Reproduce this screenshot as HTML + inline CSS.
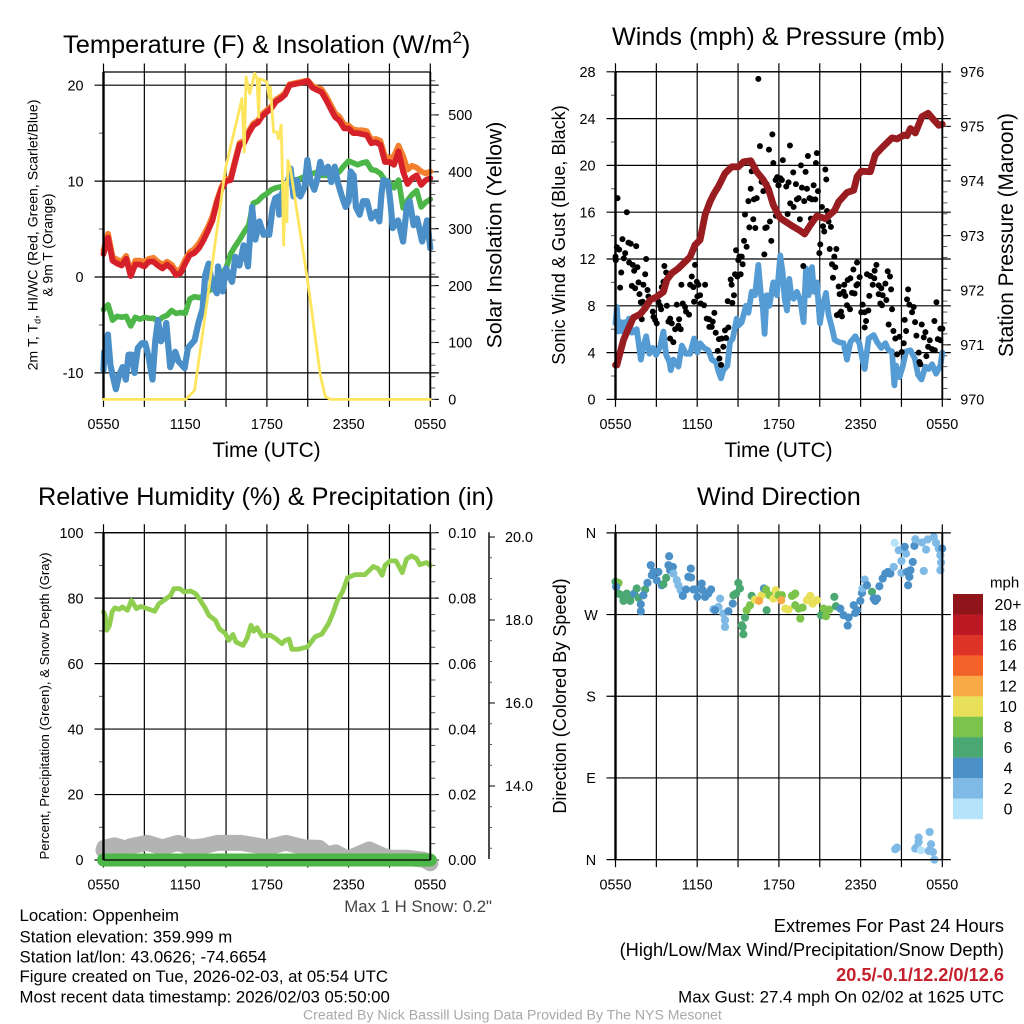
<!DOCTYPE html>
<html>
<head>
<meta charset="utf-8">
<title>Oppenheim station meteogram</title>
<style>
html,body{margin:0;padding:0;background:#fff;}
svg{display:block;}
text{font-family:"Liberation Sans",sans-serif;fill:#000;}
</style>
</head>
<body>
<svg id="chart" xmlns="http://www.w3.org/2000/svg" width="1024" height="1024" viewBox="0 0 1024 1024">
<rect x="0" y="0" width="1024" height="1024" fill="#fff"/>
<g id="marks"></g>
<g>
<text x="63" y="53" font-size="25.4">Temperature (F) &amp; Insolation (W/m<tspan font-size="17" dy="-10">2</tspan><tspan dy="10">)</tspan></text>
<text x="612" y="45" font-size="25.2">Winds (mph) &amp; Pressure (mb)</text>
<text x="38" y="505" font-size="25.25">Relative Humidity (%) &amp; Precipitation (in)</text>
<text x="697" y="505" font-size="25.2">Wind Direction</text>
</g>
<g>
<text x="266.5" y="457" font-size="20.9" text-anchor="middle">Time (UTC)</text>
<text x="778.5" y="457" font-size="20.9" text-anchor="middle">Time (UTC)</text>
<text transform="translate(37.5,235) rotate(-90)" font-size="14.1" text-anchor="middle">2m T, T<tspan font-size="9" dy="3">d</tspan><tspan dy="-3">, HI/WC (Red, Green, Scarlet/Blue)</tspan></text>
<text transform="translate(52.5,245) rotate(-90)" font-size="13.8" text-anchor="middle">&amp; 9m T (Orange)</text>
<text transform="translate(501.5,235) rotate(-90)" font-size="21.2" text-anchor="middle">Solar Insolation (Yellow)</text>
<text transform="translate(565,235) rotate(-90)" font-size="18.1" text-anchor="middle">Sonic Wind &amp; Gust (Blue, Black)</text>
<text transform="translate(1013,235) rotate(-90)" font-size="20.8" text-anchor="middle">Station Pressure (Maroon)</text>
<text transform="translate(49,706) rotate(-90)" font-size="13.2" text-anchor="middle">Percent, Precipitation (Green), &amp; Snow Depth (Gray)</text>
<text transform="translate(566,696) rotate(-90)" font-size="18.1" text-anchor="middle">Direction (Colored By Speed)</text>
</g>
<g font-size="16.8">
<text x="19.5" y="921">Location: Oppenheim</text>
<text x="19.5" y="942.5">Station elevation: 359.999 m</text>
<text x="19.5" y="962.5">Station lat/lon: 43.0626; -74.6654</text>
<text x="19.5" y="982">Figure created on Tue, 2026-02-03, at 05:54 UTC</text>
<text x="19.5" y="1002.5">Most recent data timestamp: 2026/02/03 05:50:00</text>
</g>
<text x="492" y="912" font-size="16.8" text-anchor="end" style="fill:#444">Max 1 H Snow: 0.2"</text>
<g text-anchor="end">
<text x="1004" y="932" font-size="18.25">Extremes For Past 24 Hours</text>
<text x="1004" y="956" font-size="18.25">(High/Low/Max Wind/Precipitation/Snow Depth)</text>
<text x="1004" y="981" font-size="18.2" font-weight="bold" style="fill:#c5202c">20.5/-0.1/12.2/0/12.6</text>
<text x="1004" y="1002.5" font-size="16.85">Max Gust: 27.4 mph On 02/02 at 1625 UTC</text>
</g>
<text x="303" y="1019.5" font-size="14.1" style="fill:#a8a8a8">Created By Nick Bassill Using Data Provided By The NYS Mesonet</text>
</svg>
<script>
/* ---------- data: temperature panel ---------- */
const timeLabels = ['0550','1150','1750','2350','0550'];
const tempTicks = [20,10,0,-10];
const tempMinorTicks = [15,5,-5];
const insolTicks = [0,100,200,300,400,500];
const redT = [2.4,4.1,1.7,1.4,1.2,1.9,0.1,1.3,1.3,1.1,1.6,1.6,1.2,0.9,1.3,0.9,0.2,0.4,1.4,2.3,2.5,3,3.8,4.8,5.9,7.8,9.2,10,10.1,12,13.8,14,15,15.8,16.1,16.8,17.2,
  17.6,18.3,18.6,19,20,20.1,20.2,20.3,20.45,19.75,19.5,19.3,18.5,17.6,16.7,16.3,15.5,15.5,15,15,14.9,14.8,13.95,14.05,13.8,12,12,11.7,13.1,11,9.7,10.3,10.6,9.6,10.1,10.3];
const orangeT = [2.8,4.5,2.1,1.8,1.6,2.2,0.5,1.7,1.7,1.6,1.9,2,1.6,1.3,1.6,1.3,0.6,0.8,1.8,2.6,2.9,3.5,4.3,5.2,6.3,8,9.4,10.2,10.3,12.2,14,14.2,15.2,16,16.3,17,17.4,
  17.8,18.5,18.8,19.2,20.1,20.2,20.3,20.4,20.5,19.95,19.7,19.6,18.9,18,17.1,16.7,15.9,15.8,15.4,15.3,15.3,15.2,14.3,14.4,14.2,12.6,12.4,12.6,13.7,12.6,11.2,11.6,11.4,11,10.8,11];
const greenHI = [-3.4,-2.9,-4.5,-4.1,-4.2,-4.1,-5.1,-4.2,-4.4,-4.2,-4.3,-4.3,-4.6,-4.2,-4,-3.5,-3.8,-3.7,-3.8,-2.3,-2.05,-2.15,-2.05,-1.5,-1.2,0,0.4,0.9,2.4,3.2,3.9,4.7,5.4,7.7,7.9,8.4,8.7,
  9.1,9.3,9.4,9.6,10,10.1,10.2,10.4,10.6,10.8,10.9,10.6,10.6,10.6,10.7,11,11.6,12.1,11.9,11.7,11.9,12,11.2,11.1,10.8,10.1,9.9,9.3,10.1,7.2,8,8.6,9,7.3,7.8,8.1];
const dewTimes = [0,0.05,0.12,0.32,0.51,0.66,0.91,1.15,1.4,1.64,1.84,2.08,2.28,2.52,2.82,3.06,3.31,3.6,3.8,4,4.22,4.46,4.61,4.9,5.27,5.51,5.96,6.2,6.69,6.99,7.28,7.47,7.72,7.97,8.33,8.41,8.75,9,9.44,9.68,9.98,10.29,10.61,10.91,11.15,11.45,11.76,
  12,12.17,12.42,12.61,12.86,12.9,13.1,13.35,13.6,13.74,13.96,14.2,14.45,14.77,14.97,15.19,15.48,15.68,15.92,16.17,16.49,16.73,16.98,17.22,17.51,17.78,18,18.15,18.37,18.54,18.81,19.06,19.35,19.67,20.01,20.26,20.41,20.55,20.9,21.09,21.24,21.63,22,22.29,22.49,22.78,23.03,23.4,23.76,24];
const dewValues = [-9.7,-7.8,-8.8,-6,-9.2,-10.2,-11.7,-10.2,-9.4,-10.7,-8.1,-8.1,-10,-7.4,-6.9,-6.9,-8.3,-10.7,-6.7,-4.5,-6.7,-6.2,-4.8,-9.4,-7.8,-8.8,-9.5,-7.4,-6.6,-4.7,-3.3,0.2,1.4,-0.8,-1.7,1.1,-1.5,0.9,-0.5,2.1,1.2,3.3,1.1,7.3,3.9,5.8,4.4,
  4.7,4.4,7.2,8.2,8.4,6.5,8.7,9.4,10.3,11.3,8.4,10.1,8.4,9.4,12.2,10.1,9.1,10.1,12,10.8,11.5,9.9,11.5,9.8,8.4,7.3,7.9,11,10.6,7.3,6.5,7.9,7.9,6.1,6.8,5.8,8.6,10.1,9.9,7.5,5.1,5.9,3.7,7.5,7.9,5.4,6.1,3.7,5.9,3];
const solarTimes = [0,6.05,6.69,7.84,8.95,10.17,10.34,10.47,10.74,11.1,11.27,11.4,11.47,12,12.17,12.25,12.37,12.49,12.73,12.85,13.05,13.1,13.23,13.35,13.47,13.54,13.72,15,15.92,16.29,16.66,24];
const solarValues = [0,0,16,212,405,529,435,567,537,573,564,496,564,558,529,549,511,470,470,458,482,432,271,382,312,420,406,207,43,5,0,0];

/* ---------- data: winds panel ---------- */
const windTicks = [0,4,8,12,16,20,24,28];
const windMinorTicks = [2,6,10,14,18,22,26];
const pressureTicks = [970,971,972,973,974,975,976];
const windTimes = [0,0.1,0.22,0.39,0.54,0.68,0.83,0.98,1.2,1.37,1.56,1.86,2.05,2.25,2.49,2.74,2.98,3.28,3.52,3.72,3.96,4.06,4.25,4.45,4.62,4.87,5.18,5.48,5.77,6.01,6.21,6.5,6.82,7.07,7.38,7.56,7.75,7.92,8.22,8.41,8.61,8.9,9.02,9.27,9.58,9.76,10,10.24,10.49,10.66,10.81,10.95,11.1,11.3,11.59,11.85,
  12.1,12.27,12.42,12.59,12.76,12.91,13.08,13.32,13.57,13.81,13.99,14.18,14.43,14.57,14.79,15.01,15.21,15.46,15.65,15.9,16.09,16.39,16.75,17,17.25,17.61,17.91,18.1,18.3,18.59,18.96,19.21,19.52,19.82,20.06,20.31,20.48,20.6,20.85,21.09,21.34,21.66,21.98,22.22,22.47,22.76,23,23.25,23.54,23.86,24];
const windValues = [6.5,7.9,5.8,6.6,5.8,6.6,5.7,6.9,5.7,5.8,6,3.4,4.5,5.4,3.9,4.4,3.8,4.5,5.8,3.8,3.2,2.5,3.4,3.1,2.8,4.6,3.9,3.9,5.2,4,4.8,4.4,4.2,3.4,3.2,2.4,1.8,2.5,2.9,4.9,5.2,6.9,6.3,6.6,8,7.4,9.2,8.9,11.5,9.2,8,5.6,8.9,8,10,8.9,
  12.3,10.9,8.6,7.6,10.3,8.9,8.6,9.2,8.5,6.6,11.2,8.9,11.3,9.2,10,6.5,8,9.1,7.2,6.1,5.1,4.9,4.8,3.4,4.9,5.4,4.8,3.6,2.6,5.2,5.5,4.9,4.4,4.8,4.2,4.1,1.2,2.9,1.9,2.8,4.1,4.2,3.5,2.1,1.7,2.8,2.6,3,2.2,2.9,4];
const pressureTimes = [0,0.1,0.29,0.59,0.95,1.32,1.81,2.18,2.54,3.03,3.52,3.77,4.13,4.62,5.11,5.48,5.84,6.21,6.58,6.94,7.24,7.56,8.04,8.53,9.02,9.39,9.93,10.37,10.86,11.22,11.59,11.96,
  12.1,12.59,13.08,13.5,13.89,14.3,14.79,15.41,16.09,16.39,17,17.49,17.74,18.05,18.72,19.08,19.57,20.31,20.68,21.17,21.41,21.66,22.02,22.51,22.96,23.37,23.74,24];
const pressureValues = [970.63,970.63,970.81,971.09,971.3,971.5,971.56,971.67,971.82,971.88,971.97,972.19,972.31,972.4,972.52,972.61,972.83,972.92,973.38,973.62,973.77,973.9,974.14,974.26,974.26,974.35,974.37,974.17,974.02,973.86,973.56,973.38,
  973.32,973.24,973.16,973.1,973.03,973.19,973.36,973.31,973.46,973.62,973.79,973.83,974.08,974.18,974.17,974.48,974.61,974.79,974.77,974.84,974.83,974.96,974.88,975.18,975.24,975.12,975.02,975.04];
const gustTimes = [0.15,0.83,0.51,0.95,1.12,1.52,0.1,0.27,0,0.02,0.71,0.61,1,1.27,1.61,2.25,1.37,0.42,2.18,0.34,1.2,1.44,1.69,2.05,2.35,1.76,2.42,2,1.86,2.74,2.79,2.91,3.03,1.93,3.59,3.72,3.52,3.4,3.77,3.15,3.28,3.35,4.5,4.94,5.11,5.18,5.4,4.01,3.89,4.13,4.67,4.38,4.62,4.79,4.01,4.25,5.84,5.6,5.97,6.09,5.48,5.72,6.58,4.84,6.21,6.01,5.77,6.26,6.5,6.7,6.87,7.26,7.14,6.89,7.07,7.36,8.04,8.29,7.6,7.8,8.12,7.51,7.92,7.63,7.75,8.24,8.58,8.7,8.53,8.46,8.85,9.27,9.1,9.02,9.34,8.78,8.95,9.19,9.44,9.63,9.51,9.76,9.93,10.37,10.17,10,10.61,10.49,11.27,11.52,11.59,9.83,10.27,10.12,11,11.1,10.86,10.93,11.44,11.34,11.78,11.96,11.76,11.88,11.1,10.73,
  12.81,12.29,14.13,14.79,14.72,13.62,13.96,13.05,15.41,15.48,11.85,12.1,12.22,11.98,12.54,12.71,13.25,13.69,14.06,14.55,14.87,15.16,15.53,13.32,13.45,12.83,13.08,12.64,13.54,14.25,14.43,14.67,13.86,14.35,15.65,15.24,15.82,15.33,15.04,14.97,15.73,16.22,16.07,15.9,16.14,13.79,15.97,17.74,17.47,19.16,19.03,18.47,18.72,19.99,20.16,17.25,17.05,17.93,19.01,19.82,18.89,16.8,16.39,16.75,16.46,16.88,17.78,17.69,17.37,17.56,19.33,19.52,20.24,19.33,19.62,18.64,19.89,19.45,19.57,20.31,17,17.22,18.15,16.46,16.26,16.56,16.63,18.05,18.3,18.57,18.4,18.3,21.49,21.41,21.58,21.9,21.78,23.57,20.06,20.41,21.24,22,22.49,23.42,21.34,20.85,20.55,22.1,22.76,22.64,23.08,23.67,23.86,24,23.86,21.17,22.96,23.25,23.45,21.02,20.68,22.27,22.32,22.39,22.83];
const gustValues = [17.2,16,13.7,13.4,13.3,13.1,13,12.8,12.2,11.9,12.5,12.05,11.7,11.5,11.3,12,11,10.85,10.7,9.55,9.7,9.5,10,9.8,9.35,9,8.8,8.35,8.3,7.5,7.05,6.8,6.5,6.85,11.4,10.85,10.05,9.6,8,8.35,8,7.7,8.1,8.2,7.9,7.5,7.25,6.9,6.65,6.5,6.85,6,6.3,6,5.2,4.9,11.5,10.5,10.05,9.8,9.8,9.6,9.8,9.8,8.9,8.8,8.35,8.2,8.05,6.9,6.85,7.4,6.65,6.2,6.2,5.7,5.9,6.15,5.15,5.2,5.25,4.15,4.5,3.5,2.95,8.4,8.25,8.9,9.8,10.25,12.75,12.2,12.2,11.9,11.55,10.7,10.5,10.7,13.55,13.05,15.8,16.95,18,17.2,17.1,19.5,21.65,27.4,21.35,22.65,20.2,14.7,14.65,15.4,14.65,14.7,17.8,12.4,13.55,15.2,15.7,18.3,18.75,19,18.4,18.6,
  21.7,20.45,20.8,21.05,20.2,20,19.45,19.4,19.65,18.8,18.9,18.9,18.75,18.3,18.2,18.55,18.4,18.1,18,18.3,17.8,16.45,16.1,17.1,17.2,16.75,16.45,15.85,15.4,17.2,17.1,17.1,16.95,15.45,15.2,14.8,14.75,14.35,13.25,12.5,12.85,12.85,12.2,11.55,11.3,11.4,10.4,11.7,11.1,11.5,11,10.7,10.55,10.95,10.5,10.35,10.2,10.45,10.35,9.9,9.8,9.8,9.65,9.2,9,8.85,9.85,9.75,9.1,9.05,9.75,9.5,9.4,9,8.9,8.85,8.5,8.2,8.05,7.7,8.05,7.7,8.1,7.35,7.2,7.5,7.1,7.45,7.45,7.6,6.7,6.15,9.4,8.55,8.1,7.9,7.45,8.3,6.4,5.85,6.8,6.6,6.4,6.7,5.85,5.35,5.2,5.45,5.75,5.3,5.05,5.15,6.05,6.05,5.05,4.8,4.5,4.3,4.2,4.05,3.85,4,3.2,3,3.7];

/* ---------- data: humidity panel ---------- */
const rhTicks = [0,20,40,60,80,100];
const rhMinorTicks = [10,30,50,70,90];
const precipTicks = [0,0.02,0.04,0.06,0.08,0.1];
const snowTicks = [14,16,18,20];
const rhTimes = [0,0.12,0.24,0.44,0.63,0.83,1.15,1.39,1.76,2.05,2.42,2.73,3.22,3.76,4.07,4.56,4.93,5.17,5.61,5.9,6.39,6.76,7.12,7.49,7.73,8.22,8.51,8.95,9.2,9.51,9.73,10.25,10.54,10.83,11.03,11.27,11.64,12.25,12.62,13.1,13.34,13.63,13.83,14.32,14.98,15.54,16.03,16.52,16.84,17.18,17.55,17.92,18.47,19.21,19.82,20.18,20.47,20.67,21.04,21.48,21.94,22.26,22.62,22.99,23.23,23.72,24];
const rhValues = [75.8,74.8,70.2,71.7,75.8,77,76.6,77.3,76.3,79.3,76.8,77.5,76.8,76,78.3,79.7,80.9,82.9,82.9,81.9,82.2,81.4,79.3,76.8,74.8,73.2,70.7,69.2,67.1,68.9,66.6,65.6,67.7,71.7,69.9,71,68.4,68.7,67.7,66.1,67.1,67.5,64.4,64.4,65.1,68.2,69,72.2,75.3,79.3,81.9,86.2,87.2,87.2,89.7,89,87,90,91.4,91.4,87.8,92,92.9,92.1,90.2,90.9,90];
const snowTimes = [0,0.05,0.83,1.64,2,3.23,4.33,5.48,6.41,7.39,8.37,10.09,11.19,12.04,13.39,14.74,15.84,16.45,17.06,17.92,18.65,19.51,20.61,21.1,22.33,23.55,24];
const snowValues = [12.45,12.51,12.57,12.49,12.55,12.63,12.52,12.63,12.52,12.55,12.63,12.63,12.57,12.52,12.63,12.52,12.51,12.35,12.4,12.25,12.35,12.47,12.31,12.27,12.27,12.22,12.14];
const precipTimes = [0,24];
const precipValues = [0,0];

/* ---------- data: wind direction panel ---------- */
const dirTickLabels = ['N','W','S','E','N'];
const dirTicks = [360,270,180,90,0];
const speedLabels = ['20+','18','16','14','12','10','8','6','4','2','0'];
const speedColors = ['#90151a','#bb1a25','#de3427','#f36228','#f9a945','#e8e058','#7bc34b','#4ba873','#4b90c7','#7ebae5','#b5e3fa'];
const dirTimes = [0,0.22,0.05,0.22,0.46,0.59,0.83,1.08,1.08,1.37,1.56,1.69,2.18,2.05,1.86,1.86,2.35,2.67,2.59,2.79,3.15,3.03,3.4,3.52,3.72,3.94,3.89,4.01,4.21,4.25,4.5,4.62,4.79,4.94,5.18,5.35,5.53,5.55,5.72,6.01,5.92,6.33,6.41,6.58,7.02,6.82,7.68,7.19,7.56,7.92,7.31,8.29,8.04,8.04,8.66,9.02,9.14,8.85,8.61,9.51,9.34,9.39,9.27,9.63,9.88,10,10.24,10.73,10.9,11.1,11.05,11.3,11.59,11.76,
  11.98,12.22,12.47,12.71,13.08,12.96,13.2,13.45,13.74,13.57,14.06,14.3,14.48,14.79,13.2,15.09,15.28,15.46,15.7,16.07,16.19,16.51,16.75,17.12,17.05,17.49,17.74,17.61,17.98,18.1,18.3,18.15,18.47,18.84,18.96,19.21,19.08,19.38,19.62,19.82,20.19,20.01,20.43,21,20.8,20.5,21,21.34,21.24,21.83,21.66,21.41,21.58,21.49,21.95,22.02,22.51,22.81,22.93,23.37,23.54,23.74,23.99,23.86,23.91,23.86,22.64,
  10.54,12.17,
  20.54,20.67,22.26,22.26,22.14,22.01,23.07,23.17,22.43,23,23.31,23.41];
const dirValues = [306,304.9,300.5,293.1,291.3,285.1,293.1,289.5,285.1,293.1,298.7,288.4,297.6,291.3,281.4,273.7,304.9,313.4,324.4,317,317,307.8,302.3,303.4,310.4,334.3,324.4,318.9,322.5,315.2,307.8,302.3,296.8,290.6,297.6,311.5,320.7,310.8,297.6,289.5,297.6,304.2,296.8,289.5,297.6,293.1,287.6,275.9,278.4,271.1,274.8,273.7,263.8,256.4,291.3,304.9,298.7,293.1,282.1,266.7,256.4,248.3,258.2,274.8,280.3,290.6,286.5,291.3,298.7,274.8,297.6,291.3,287.6,296.8,
  291.3,291.3,276.6,275.5,291.3,290.6,293.1,276.6,277.7,265.6,285.8,290.6,282.1,285.8,280.3,269.3,276.6,268.2,275.5,289.5,279.2,276.6,269.3,266.7,257.9,280.3,274.8,271.8,285.1,293.9,308.6,298.7,302.3,295,287.6,287.6,285.1,301.2,309.7,315.2,315.2,317,322.5,315.9,340.9,349,329.1,337.2,344.6,328,318.9,317,311.5,302.3,345.7,353,349.4,341.6,352.7,355.6,349,342.7,342.7,335.4,327.3,318.9,318.1,
  285.1,285.8,
  11.4,13.2,24.2,19.5,14,12.1,30.5,16.9,10.3,9.6,8.4,0];
const dirSpeeds = [6,8,4,6,6,6,6,6,6,4,6,6,6,4,4,4,4,4,4,4,4,4,4,6,6,4,4,4,4,2,2,2,2,4,4,4,4,4,4,4,4,4,4,4,4,4,2,2,2,2,4,4,2,2,6,6,6,6,4,6,6,6,6,8,8,6,10,10,4,6,8,8,10,10,
  8,8,10,10,10,8,8,8,8,8,10,10,10,10,8,6,8,8,8,6,6,4,4,4,4,4,4,4,4,4,2,2,4,6,4,4,4,4,4,4,4,4,2,2,2,0,2,2,4,4,4,4,4,4,4,2,2,2,2,2,2,2,4,2,2,2,2,
  12,12,
  2,2,2,2,2,2,2,2,0,2,2,2];

/* ---------- helpers ---------- */
const NS = 'http://www.w3.org/2000/svg';
const root = document.getElementById('marks');
function make(tag, attrs, parent) {
  const el = document.createElementNS(NS, tag);
  for (const k in attrs) el.setAttribute(k, attrs[k]);
  (parent || root).appendChild(el);
  return el;
}
function seg(parent, x1, y1, x2, y2, w, color) {
  return make('line', {x1: x1, y1: y1, x2: x2, y2: y2, stroke: color || '#000', 'stroke-width': w}, parent);
}
function linear(d0, d1, r0, r1) {
  return function (v) { return r0 + (v - d0) * (r1 - r0) / (d1 - d0); };
}
function pathFor(times, values, xs, ys) {
  return times.map(function (t, i) { return (i ? 'L' : 'M') + xs(t).toFixed(2) + ' ' + ys(values[i]).toFixed(2); }).join('');
}
function series(parent, times, values, xs, ys, color, width) {
  return make('path', {d: pathFor(times, values, xs, ys), fill: 'none', stroke: color, 'stroke-width': width, 'stroke-linejoin': 'round', 'stroke-linecap': 'round'}, parent);
}
function uniformTimes(values) {
  return values.map(function (_, i) { return i * 24 / (values.length - 1); });
}
function tickText(parent, x, y, str, anchor) {
  const t = make('text', {x: x, y: y, 'font-size': 14.4, 'text-anchor': anchor}, parent);
  t.textContent = str;
  return t;
}

/* scales */
const xA = linear(0, 24, 103.5, 430.3);
const xB = linear(0, 24, 615.5, 942.3);
const yTemp = linear(0, 10, 277, 181.1);
const ySolar = linear(0, 500, 399.4, 114.9);
const yWind = linear(0, 28, 399.4, 71.8);
const yPres = linear(970, 976, 399.4, 71.8);
const yRH = linear(0, 100, 860, 532.7);
const yPrecip = linear(0, 0.1, 860, 532.7);
const ySnow = linear(14, 20, 786, 537);
const yDir = linear(0, 360, 859.6, 532.9);

/* draws grid + ticks + x labels beneath a panel's data */
function drawGrid(g, xs, yTop, yBottom, hTicks, hScale, showLabels) {
  for (let h = 0; h <= 24; h += 3) {
    const v = seg(g, xs(h), yTop - 8.5, xs(h), yBottom + 7.5, 1.2);
    
    
  }
  hTicks.forEach(function (tick) {
    const l = seg(g, xs(0) - 9, hScale(tick), xs(24) + 8.5, hScale(tick), 1.2);
    
    
  });
  timeLabels.forEach(function (lab, i) {
    const t = tickText(g, xs(i * 6), yBottom + (showLabels || 29.7), lab, 'middle');
    
    
  });
}
function drawFrame(g, xs, yTop, yBottom) {
  const left = seg(g, xs(0), yTop, xs(0), yBottom, 2.4);
  
  
  const right = seg(g, xs(24), yTop, xs(24), yBottom, 1.9);
  
  
  const top = seg(g, xs(0), yTop, xs(24), yTop, 1.3);
  
  
  const bottom = seg(g, xs(0), yBottom, xs(24), yBottom, 1.3);
  
  
}
function minorLeft(g, xs, ticks, scale) {
  ticks.forEach(function (v) {
    const m = seg(g, xs(0) - 4.5, scale(v), xs(0), scale(v), 1, '#555');
    
    
  });
}
function minorRight(g, xs, from, to, step, scale) {
  const count = Math.round((to - from) / step);
  for (let i = 0; i <= count; i++) {
    const v = from + i * step;
    const m = seg(g, xs(24), scale(v), xs(24) + 5, scale(v), 1, '#555');
    
    
  }
}
function leftLabels(g, xs, ticks, scale, fmt) {
  ticks.forEach(function (v, i) {
    const t = tickText(g, xs(0) - 20, scale(v) + 5.2, fmt ? fmt(v, i) : String(v), 'end');
    
    
  });
}
function rightLabels(g, xs, ticks, scale, fmt) {
  ticks.forEach(function (v) {
    const t = tickText(g, xs(24) + 18, scale(v) + 5.2, fmt ? fmt(v) : String(v), 'start');
    
    
  });
}

/* ---------- panel 1: temperature ---------- */
const p1 = make('g', {});


drawGrid(p1, xA, 72, 399.4, tempTicks, yTemp);
insolTicks.forEach(function (v) {
  const tk = seg(p1, xA(24), ySolar(v), xA(24) + 8.5, ySolar(v), 1.1);
  
  
});
minorLeft(p1, xA, tempMinorTicks, yTemp);
minorRight(p1, xA, 0, 560, 20, ySolar);
leftLabels(p1, xA, tempTicks, yTemp);
rightLabels(p1, xA, insolTicks, ySolar);
const lineOrange = series(p1, uniformTimes(orangeT), orangeT, xA, yTemp, '#f47f2e', 5.8);


const lineGreen = series(p1, uniformTimes(greenHI), greenHI, xA, yTemp, '#4cb648', 5.6);


const lineBlue = series(p1, dewTimes, dewValues, xA, yTemp, '#4a8fc7', 6.2);


const lineRed = series(p1, uniformTimes(redT), redT, xA, yTemp, '#d7212a', 5.8);


drawFrame(p1, xA, 72, 399.4);
const lineSolar = series(p1, solarTimes, solarValues, xA, ySolar, '#fde55e', 2.8);



/* ---------- panel 2: winds ---------- */
const p2 = make('g', {});


drawGrid(p2, xB, 71.8, 399.4, windTicks, yWind);
pressureTicks.forEach(function (v) {
  const tk = seg(p2, xB(24), yPres(v), xB(24) + 8.5, yPres(v), 1.1);
  
  
});
minorLeft(p2, xB, windMinorTicks, yWind);
minorRight(p2, xB, 970, 976, 0.2, yPres);
leftLabels(p2, xB, windTicks, yWind);
rightLabels(p2, xB, pressureTicks, yPres);
const lineWind = series(p2, windTimes, windValues, xB, yWind, '#569cd4', 5.8);


gustTimes.forEach(function (t, i) {
  const d = make('circle', {cx: xB(t).toFixed(2), cy: yWind(gustValues[i]).toFixed(2), r: 3, fill: '#000'}, p2);
  
  
});
const linePres = series(p2, pressureTimes, pressureValues, xB, yPres, '#981c20', 6.8);


drawFrame(p2, xB, 71.8, 399.4);

/* ---------- panel 3: humidity ---------- */
const p3 = make('g', {});


drawGrid(p3, xA, 532.7, 860, rhTicks, yRH);
minorLeft(p3, xA, rhMinorTicks, yRH);
minorRight(p3, xA, 0, 0.1, 0.005, yPrecip);
leftLabels(p3, xA, rhTicks, yRH);
rightLabels(p3, xA, precipTicks, yPrecip, function (v) { return v.toFixed(2); });
const lineSnow = series(p3, snowTimes, snowValues, xA, ySnow, '#b3b3b3', 16);


const linePrecip = series(p3, precipTimes, precipValues, xA, yPrecip, '#4cb648', 13);


const lineRH = series(p3, rhTimes, rhValues, xA, yRH, '#8fce4f', 4.8);


drawFrame(p3, xA, 532.7, 860);
const snowAxisX = 489;
const snowSpine = seg(p3, snowAxisX, 532.3, snowAxisX, 859, 1.4);


for (let k = 0; k <= 15; k++) {
  const v = 12.5 + k * 0.5;
  const major = Number.isInteger(v / 2);
  const tk = seg(p3, snowAxisX, ySnow(v), snowAxisX + (major ? 6 : 3), ySnow(v), 1, major ? '#000' : '#555');
  
  
}
snowTicks.forEach(function (v) {
  const t = tickText(p3, snowAxisX + 16, ySnow(v) + 5.2, v.toFixed(1), 'start');
  
  
});

/* ---------- panel 4: wind direction ---------- */
const p4 = make('g', {});


drawGrid(p4, xB, 532.9, 859.6, dirTicks, yDir);
dirTicks.forEach(function (v, i) {
  const t = tickText(p4, 591, yDir(v) + 5.2, dirTickLabels[i], 'middle');
  
  
});
dirTimes.forEach(function (t, i) {
  const bin = Math.round(Math.min(dirSpeeds[i], 20) / 2);
  const d = make('circle', {cx: xB(t).toFixed(2), cy: yDir(dirValues[i]).toFixed(2), r: 4.1, fill: speedColors[speedColors.length - 1 - bin]}, p4);
  
  
});
drawFrame(p4, xB, 532.9, 859.6);

/* ---------- colorbar ---------- */
const cb = make('g', {});


const cbTitle = make('text', {x: 990, y: 587.5, 'font-size': 15}, cb);
cbTitle.textContent = 'mph';


const boxH = 225 / speedLabels.length;
speedLabels.forEach(function (lab, i) {
  const r = make('rect', {x: 953, y: 594 + i * boxH, width: 30, height: boxH + 0.2, fill: speedColors[i]}, cb);
  
  
  const t = make('text', {x: 1008, y: 594 + (i + 0.5) * boxH + 5.6, 'font-size': 15.9, 'text-anchor': 'middle'}, cb);
  t.textContent = lab;
  
  
});
</script>
</body>
</html>
